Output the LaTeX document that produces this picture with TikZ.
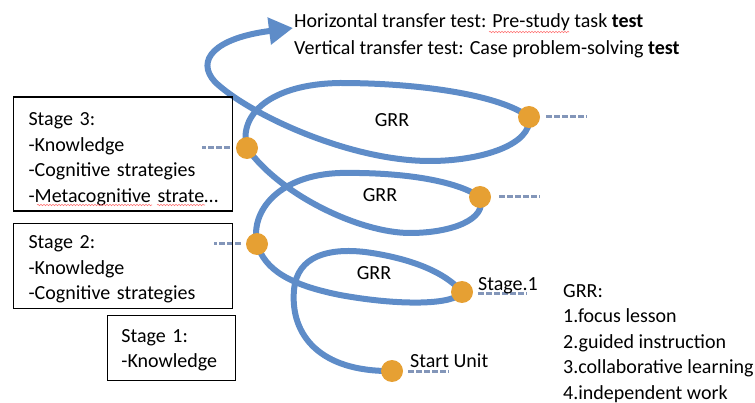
\documentclass[tikz,border=0pt]{standalone}
\usepackage{fontspec}
\setmainfont{Carlito}
\usetikzlibrary{arrows.meta,decorations.pathmorphing}
\definecolor{coilblue}{HTML}{5E8CC8}
\definecolor{dotorange}{HTML}{E6A033}
\definecolor{dashgrey}{HTML}{8396B9}

\begin{document}
\begin{tikzpicture}[x=1pt, y=-1pt,
  coil/.style={draw=coilblue, line width=6pt, line cap=round},
  stagedot/.style={circle, fill=dotorange, minimum size=22pt, inner sep=0pt},
  dashline/.style={draw=dashgrey, line width=3pt, dash pattern=on 6pt off 2pt},
  squiggle/.style={draw=red!55, line width=0.6pt, decorate, decoration={snake, segment length=3pt, amplitude=0.7pt}},
  stagebox/.style={rectangle, draw=black, line width=1.1pt, anchor=north west, align=left,
    inner xsep=14.7pt, inner ysep=0pt, text width=189.6pt, minimum width=219pt,
    font=\fontsize{20}{25.5}\selectfont},
  txt/.style={inner sep=0pt, font=\fontsize{20}{25.5}\selectfont}]
\useasboundingbox (0,0) rectangle (755,403);

% points where the coil meets the stages
\coordinate (cStart) at (392,371);
\coordinate (cOne) at (462,292);
\coordinate (cTwo) at (257,244);
\coordinate (cTwoR) at (480,197);
\coordinate (cThree) at (247,148);
\coordinate (cThreeR) at (529,117);
\coordinate (cTip) at (293,28);

% the coil
\draw[coil, -{Triangle[length=24pt,width=26pt]}]
  (cStart) .. controls (320,372) and (290,335) .. (294,290)
  .. controls (297,255) and (330,248) .. (365,252)
  .. controls (410,258) and (445,272) .. (cOne)
  .. controls (455,305) and (400,306) .. (340,295)
  .. controls (290,285) and (265,270) .. (cTwo)
  .. controls (250,210) and (280,175) .. (340,173)
  .. controls (400,172) and (455,180) .. (cTwoR)
  .. controls (488,220) and (450,233) .. (410,233)
  .. controls (360,233) and (280,195) .. (cThree)
  .. controls (238,115) and (270,84) .. (340,83)
  .. controls (420,83) and (500,95) .. (cThreeR)
  .. controls (533,145) and (480,161) .. (430,161)
  .. controls (350,161) and (250,115) .. (215,82)
  .. controls (195,60) and (215,38) .. (cTip);

% dots
\node[stagedot] (dStart) at (cStart) {};
\node[stagedot] (dOne) at (cOne) {};
\node[stagedot] (dTwo) at (cTwo) {};
\node[stagedot] (dTwoR) at (cTwoR) {};
\node[stagedot] (dThree) at (cThree) {};
\node[stagedot] (dThreeR) at (cThreeR) {};

% dashes
\draw[dashline] ([xshift=5pt]dStart.east) -- ++(41,0);
\draw[dashline] ([xshift=5pt,yshift=-2pt]dOne.east) -- ++(49,0);
\draw[dashline] ([xshift=8pt]dTwoR.east) -- ++(41,0);
\draw[dashline] ([xshift=6pt]dThreeR.east) -- ++(41,0);
\draw[dashline] ([xshift=-5pt]dTwo.west) -- ++(-27,0);
\draw[dashline] ([xshift=-6pt]dThree.west) -- ++(-28,0);

% labels
\node[txt, anchor=base west] (lStart) at (410,367) {Start Unit};
\node[txt, anchor=base west] (lOne) at (478,291) {Stage.1};
\node[txt, anchor=base] (gOne) at (374,280) {GRR};
\node[txt, anchor=base] (gTwo) at (380,201.7) {GRR};
\node[txt, anchor=base] (gThree) at (392,127) {GRR};

\node[txt, anchor=base west] (tHor) at (294,28) {Horizontal transfer test: Pre-study task \textbf{test}};
\node[txt, anchor=base west] (tVer) at (294,55) {Vertical transfer test: Case problem-solving \textbf{test}};

\node[txt, anchor=north west, align=left] (grrList) at (563,284)
  {GRR:\\1.focus lesson\\2.guided instruction\\3.collaborative learning\\4.independent work};

% stage boxes
\node[stagebox, minimum height=114pt] (boxThree) at (13.3,96.5)
  {\rule{0pt}{23pt}Stage 3:\\-Knowledge\\-Cognitive strategies\\-Metacognitive strate\dots};
\node[stagebox, minimum height=85pt] (boxTwo) at (13.3,223.3)
  {\rule{0pt}{19pt}Stage 2:\\-Knowledge\\-Cognitive strategies};
\node[stagebox, minimum height=65pt, text width=100pt, minimum width=128.3pt, inner xsep=13.5pt] (boxOne) at (106.7,315)
  {\rule{0pt}{17pt}Stage 1:\\-Knowledge};

% spell-check marks
\draw[squiggle] (489,32) -- (569,32);
\draw[squiggle] (37,205) -- (152,205);
\draw[squiggle] (157,205) -- (205,205);
\end{tikzpicture}
\end{document}
